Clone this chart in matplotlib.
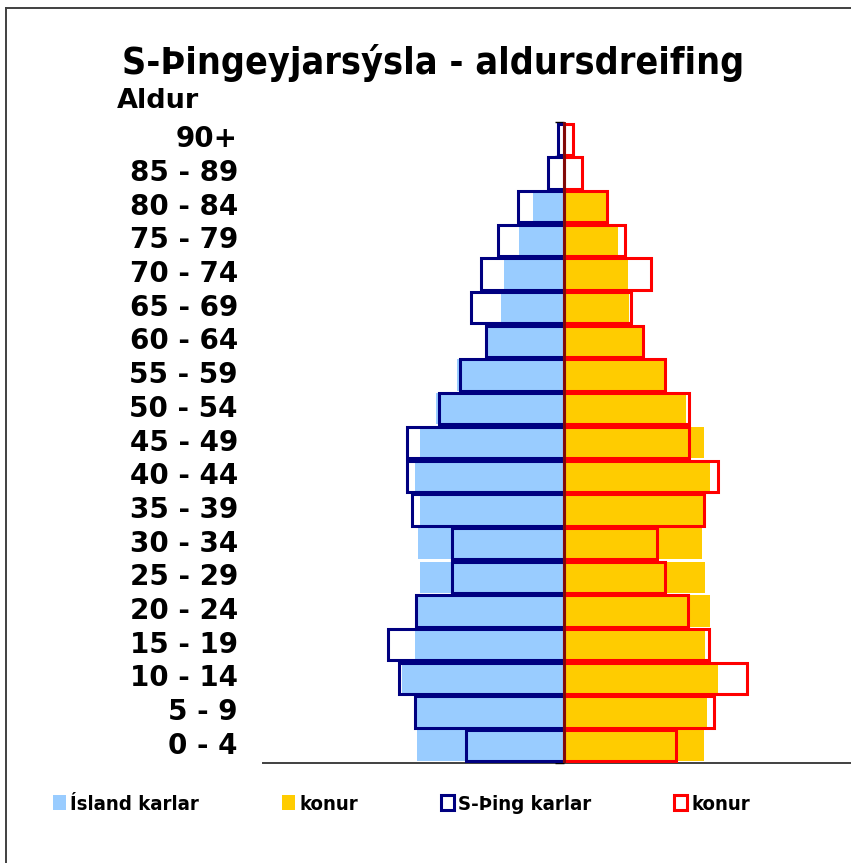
import matplotlib
matplotlib.use("Agg")
import matplotlib.pyplot as plt
import numpy as np
from matplotlib.patches import Patch
from matplotlib.lines import Line2D
from matplotlib.transforms import blended_transform_factory

# ---- data (bottom to top) ----
age_groups = ["0 - 4", "5 - 9", "10 - 14", "15 - 19", "20 - 24", "25 - 29", "30 - 34",
              "35 - 39", "40 - 44", "45 - 49", "50 - 54", "55 - 59", "60 - 64",
              "65 - 69", "70 - 74", "75 - 79", "80 - 84", "85 - 89", "90+"]
island_karlar = [2.93, 2.97, 3.23, 2.97, 2.93, 2.87, 2.91, 2.87, 2.97, 2.87,
                 2.55, 2.12, 1.54, 1.25, 1.19, 0.89, 0.61, 0.0, 0.0]
island_konur = [2.81, 2.87, 3.09, 2.83, 2.93, 2.83, 2.77, 2.80, 2.93, 2.80,
                2.45, 2.03, 1.58, 1.30, 1.28, 1.09, 0.85, 0.0, 0.0]
sthing_karlar = [1.94, 2.97, 3.29, 3.51, 2.95, 2.23, 2.23, 3.03, 3.13, 3.13,
                 2.49, 2.06, 1.54, 1.84, 1.64, 1.30, 0.91, 0.30, 0.11]
sthing_konur = [2.25, 3.00, 3.67, 2.90, 2.48, 2.02, 1.86, 2.80, 3.09, 2.50,
                2.50, 2.02, 1.58, 1.34, 1.74, 1.22, 0.87, 0.37, 0.18]

title = "S-Þingeyjarsýsla - aldursdreifing"
legend_labels = ["Ísland karlar", "konur", "S-Þing karlar", "konur"]

C_LB = "#99CCFF"
C_GOLD = "#FFCC00"
C_NAVY = "#000080"
C_RED = "#FF0000"

FONT_C = dict(family="DejaVu Sans", stretch="condensed", weight="bold")
FONT_N = dict(family="DejaVu Sans", weight="bold")

W, H = 851, 863
fig = plt.figure(figsize=(W / 100, H / 100), dpi=100)

# outer frame (partially cropped in the reference)
fig.add_artist(Line2D([6 / W, 6 / W], [0, 1 - 8 / H], transform=fig.transFigure,
                      color="#404040", lw=1.4))
fig.add_artist(Line2D([6 / W, 1], [1 - 8 / H, 1 - 8 / H], transform=fig.transFigure,
                      color="#404040", lw=1.4))

left_px, right_px = 263, 864
top_px, bot_px = 122.5, 762.5
ax = fig.add_axes([left_px / W, (H - bot_px) / H, (right_px - left_px) / W,
                   (bot_px - top_px) / H])

y = np.arange(len(age_groups))
h = 0.93
ax.barh(y, -np.array(island_karlar), height=h, color=C_LB, zorder=2)
ax.barh(y, np.array(island_konur), height=h, color=C_GOLD, zorder=2)
ax.barh(y, -np.array(sthing_karlar), height=h, fill=False, edgecolor=C_NAVY,
        linewidth=2.2, zorder=3)
ax.barh(y, np.array(sthing_konur), height=h, fill=False, edgecolor=C_RED,
        linewidth=2.2, zorder=3)

ax.axvline(0, color="#7a0a0a", lw=2.0, zorder=4)

ax.set_xlim(-6, 6)
ax.set_ylim(-0.5, len(age_groups) - 0.5)

for s in ["top", "right", "left"]:
    ax.spines[s].set_visible(False)
ax.spines["bottom"].set_color("#404040")
ax.spines["bottom"].set_linewidth(1.4)
ax.spines["left"].set_position(("data", 0))
ax.set_xticks([])
ax.set_yticks(np.arange(-0.5, len(age_groups), 1.0))
ax.set_yticklabels([])
ax.tick_params(axis="y", length=6.5, width=1.0, color="black", direction="out")
for t in ax.yaxis.get_major_ticks():
    t.tick1line.set_zorder(5)
ax.set_axisbelow(False)

tr = blended_transform_factory(fig.transFigure, ax.transData)
for yi, lab in zip(y, age_groups):
    ax.text(238 / W, yi, lab, transform=tr, ha="right", va="center",
            fontsize=20, clip_on=False, **FONT_N)

fig.text(433.5 / W, 1 - 74 / H, title, ha="center", va="baseline",
         fontsize=27, **FONT_C)
fig.text(117 / W, 1 - 108 / H, "Aldur", ha="left", va="baseline",
         fontsize=19.5, **FONT_N)

handles = [Patch(facecolor=C_LB, edgecolor="none"),
           Patch(facecolor=C_GOLD, edgecolor="none"),
           Patch(facecolor="white", edgecolor=C_NAVY, linewidth=2.2),
           Patch(facecolor="white", edgecolor=C_RED, linewidth=2.2)]
leg = fig.legend(handles, legend_labels, loc="center left",
                 bbox_to_anchor=(53 / W, 1 - 804 / H), ncol=4, frameon=False,
                 borderaxespad=0, borderpad=0, handlelength=0.64,
                 handleheight=0.7, handletextpad=0.2, columnspacing=4.1,
                 prop=dict(size=14.6, **FONT_C))

fig.savefig("out.png", dpi=100)
